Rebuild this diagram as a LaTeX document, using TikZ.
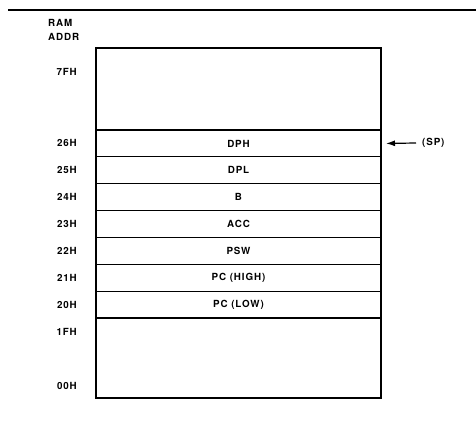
\documentclass[tikz,border=0pt]{standalone}
\usepackage{fontspec}
\setmainfont{TeX Gyre Heros}[LetterSpace=9]
\usetikzlibrary{arrows.meta,positioning}

\begin{document}
\begin{tikzpicture}[x=1pt,y=-1pt,>=Latex,font=\bfseries\fontsize{9.8}{14}\selectfont,
  cell/.style={draw,line width=1.1pt,minimum width=285pt,minimum height=26.86pt,inner sep=0pt,outer sep=0pt},
  ad/.style={inner sep=0pt,anchor=east}]
  \useasboundingbox (0,0) rectangle (476,421);
  \draw[line width=1.8pt] (8,10) -- (476,10);
  \node[anchor=north west,align=left,inner sep=0pt] (hd) at (48,19.5) {RAM\\ADDR};
  % free area above the stack
  \node[cell,draw=none,anchor=north west,minimum height=82pt] (hi) at (96,48) {};
  \node[cell,below=0pt of hi] (dph)  {DPH};
  \node[cell,below=0pt of dph] (dpl) {DPL};
  \node[cell,below=0pt of dpl] (b)   {B};
  \node[cell,below=0pt of b] (acc)   {ACC};
  \node[cell,below=0pt of acc] (psw) {PSW};
  \node[cell,below=0pt of psw] (pch) {PC (HIGH)};
  \node[cell,below=0pt of pch] (pcl) {PC (LOW)};
  % free area below the stack
  \node[cell,draw=none,below=0pt of pcl,minimum height=80pt] (lo) {};
  \draw[line width=1.8pt] (hi.north west) rectangle (lo.south east);
  % addresses
  \node[ad] (a7f) at (77,72)  {7FH};
  \node[ad,left=19pt of dph.west] (a26) {26H};
  \node[ad,left=19pt of dpl.west] (a25) {25H};
  \node[ad,left=19pt of b.west]   (a24) {24H};
  \node[ad,left=19pt of acc.west] (a23) {23H};
  \node[ad,left=19pt of psw.west] (a22) {22H};
  \node[ad,left=19pt of pch.west] (a21) {21H};
  \node[ad,left=19pt of pcl.west] (a20) {20H};
  \node[ad] (a1f) at (77,332) {1FH};
  \node[ad] (a00) at (77,386) {00H};
  % stack pointer
  \node[inner sep=0pt,anchor=west] (sp) at (422,143) {(SP)};
  \draw[line width=1.2pt,-{Latex[length=9pt,width=6pt]}] ([xshift=-6pt]sp.west) -- ([xshift=5pt]dph.east);
\end{tikzpicture}
\end{document}
